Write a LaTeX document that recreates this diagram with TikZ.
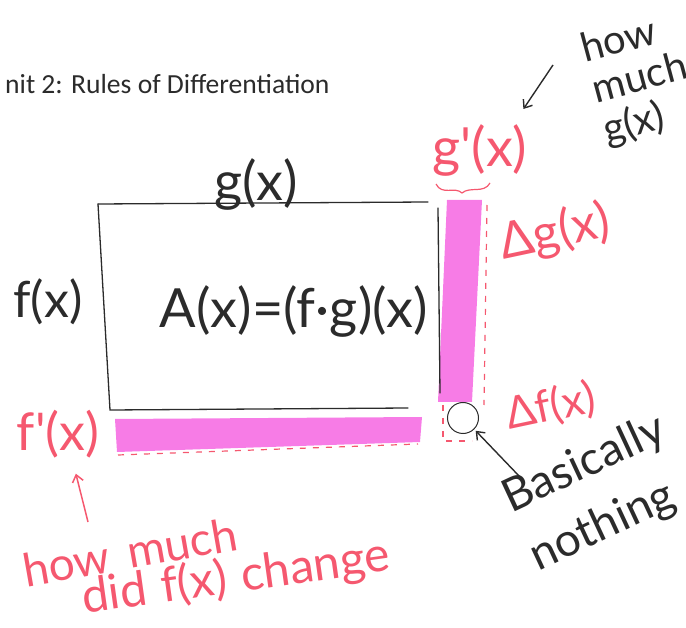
\documentclass[tikz,border=0pt]{standalone}
\usepackage{fontspec}
\setmainfont{Carlito}
\newfontfamily\handfont{Lato}
\usepackage{xcolor}
\usetikzlibrary{arrows.meta}
\definecolor{ink}{HTML}{2B2B2B}
\definecolor{redink}{HTML}{F5586F}
\definecolor{marker}{HTML}{F77CE6}

\begin{document}
\begin{tikzpicture}[
    x=1pt, y=-1pt,
    >={Straight Barb[length=7pt, width=11pt]},
    hand/.style={font=\handfont\fontsize{#1}{#1}\selectfont, inner sep=0pt},
    frame/.style={draw=ink, line width=1.3pt, line cap=round},
    cut/.style={draw=redink, line width=1.2pt, dash pattern=on 6pt off 7pt},
    note/.style={ink, line width=1.4pt, ->},
    rednote/.style={redink, line width=1.5pt, ->}
]

% --- PARAMETER ---
\def\rahmenL{98}   % linke Kante
\def\rahmenR{438}  % rechte Kante
\def\rahmenO{204}  % obere Kante
\def\rahmenU{410}  % untere Kante

\useasboundingbox (0,0) rectangle (686,628);
\clip (0,0) rectangle (686,628);

% --- TITEL ---
\node[anchor=base west, font=\fontsize{27.6}{30}\selectfont, text=ink, inner sep=0pt] (titel) at (5,94) {nit 2: Rules of Differentiation};

% --- STREIFEN ---
\fill[marker] (115,419) -- (422,417) -- (420,442) -- (117,452) -- cycle;
\fill[marker] (447,200) -- (482,200) -- (472,402) -- (438,402) -- cycle;

% --- RECHTECK ---
\draw[frame] (\rahmenL,\rahmenO) -- (428,202);
\draw[frame] (\rahmenL,\rahmenO) -- (110,\rahmenU) -- (408,408);
\draw[frame] (\rahmenR,208) -- (440,393);

% gestrichelte Raender
\draw[cut] (118,455) -- (418,444);
\draw[cut] (487,205) -- (484,405);
\draw[cut] (443,405) -- (443,441) -- (472,441);

% --- BESCHRIFTUNG ---
\node[hand=54, text=ink] (gx) at (256,184) {g(x)};
\node[hand=50, text=ink] (fx) at (48,302) {f(x)};
\node[hand=54, text=ink] (area) at (294,311) {A(x)=(f·g)(x)};

\node[hand=54, text=redink] (gprime) at (480,150) {g'(x)};
\draw[redink, line width=1.2pt] (436,184) .. controls (442,196) and (455,186) .. (462,193) .. controls (470,186) and (484,194) .. (490,183);
\node[hand=50, text=redink, rotate=12] (dg) at (555,233) {Δg(x)};
\node[hand=52, text=redink] (fprime) at (58,434) {f'(x)};
\node[hand=44, text=redink, rotate=12] (df) at (551,407) {Δf(x)};

% kleines Eck
\node[draw=ink, line width=1pt, circle, minimum size=31, inner sep=0pt] (nix) at (463,418) {};

% --- NOTIZEN ---
\node[hand=40, text=ink, align=left, rotate=15] (wieG) at (640,80) {how\\[2pt]much\\[2pt]g(x)};
\coordinate (startG) at (553,65);
\draw[note, shorten >=18pt] (startG) -- (gprime.38);

\node[hand=46, text=ink, align=left, rotate=25] (basis) at (598,494) {Basically\\[18pt]nothing};
\coordinate (startB) at (520,477);
\draw[note, shorten >=2pt] (startB) -- (nix.south east);

\node[hand=46, text=redink, rotate=10] (wieF) at (130,552) {how\hspace{0.4em}much};
\node[hand=48, text=redink, rotate=8] (wieF2) at (236,578) {did\hspace{0.3em}f(x)\hspace{0.3em}change};
\coordinate (startF) at (88,522);
\draw[rednote, shorten >=16pt] (startF) -- (fprime.-60);
\end{tikzpicture}
\end{document}
